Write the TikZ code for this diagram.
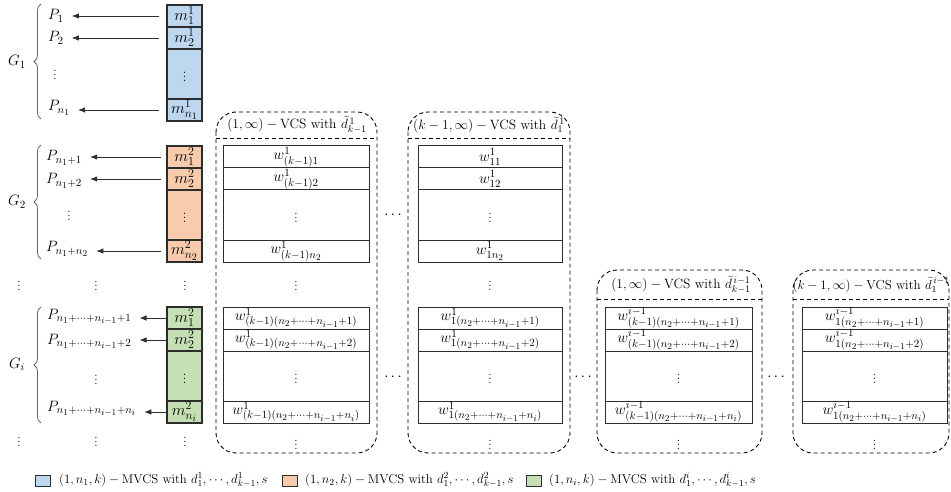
\RequirePackage{fix-cm}
\documentclass[tikz,border=0pt]{standalone}
\usetikzlibrary{decorations.pathreplacing,arrows.meta}
\definecolor{cblue}{RGB}{189,215,238}
\definecolor{corange}{RGB}{248,203,173}
\definecolor{cgreen}{RGB}{197,224,180}
\definecolor{cline}{RGB}{45,45,45}
\DeclareMathSizes{16}{16}{12}{10}
\DeclareMathSizes{15}{15}{11}{9}
\DeclareMathSizes{13.5}{13.5}{10}{8}
\DeclareMathSizes{13}{13}{9.6}{7.8}
\DeclareMathSizes{12.8}{12.8}{9.4}{7.6}
\newcommand\bigf{\fontsize{15}{17}\selectfont}
\newcommand\mf{\fontsize{16}{18}\selectfont}
\newcommand\titf{\fontsize{13.5}{15}\selectfont}
\newcommand\legf{\fontsize{12.8}{15}\selectfont}
\newcommand\rowset[7]{% #1 prefix, #2 style, #3 x, #4 top y, #5 #6 #7 labels
  \node[#2, minimum height=22pt] (#1a) at (#3,#4+11) {#5};
  \node[#2, minimum height=22pt] (#1b) at (#3,#4+33) {#6};
  \node[#2, minimum height=50pt] (#1c) at (#3,#4+69) {$\vdots$};
  \node[#2, minimum height=22pt] (#1d) at (#3,#4+105) {#7};
}
\begin{document}
\begin{tikzpicture}[x=1pt,y=-1pt,font=\bigf,
  mbox/.style={draw=cline, line width=1.1pt, minimum width=35pt, inner sep=0pt, font=\mf},
  wbox/.style={draw=cline, line width=1pt, inner sep=0pt},
  lab/.style={inner sep=3pt, anchor=west},
  ttl/.style={font=\titf, inner sep=1pt},
  arr/.style={-{Latex[length=7pt,width=5.5pt]}, line width=0.8pt, draw=cline, shorten >=5pt},
  dashbox/.style={draw=black, dash pattern=on 4pt off 3pt, line width=0.9pt, rounded corners=20pt},
  dashln/.style={draw=black, dash pattern=on 4pt off 3pt, line width=0.9pt},
  brc/.style={decorate, decoration={brace, amplitude=7pt}, draw=black!60, line width=0.8pt},
  legsq/.style={draw=cline, line width=0.9pt, minimum width=15pt, minimum height=11pt, inner sep=0pt},
  legt/.style={font=\legf, anchor=west, inner sep=0pt}]
\useasboundingbox (0,0) rectangle (951,492);

% ---------- left m columns ----------
\rowset{m1}{mbox,fill=cblue}{184.5}{5}{$m^1_1$}{$m^1_2$}{$m^1_{n_1}$}
\rowset{m2}{mbox,fill=corange}{184.5}{146}{$m^2_1$}{$m^2_2$}{$m^2_{n_2}$}
\rowset{mi}{mbox,fill=cgreen}{184.5}{307}{$m^2_1$}{$m^2_2$}{$m^2_{n_i}$}

% ---------- P labels ----------
\node[lab] (P1a) at (45,16) {$P_1$};
\node[lab] (P1b) at (45,38) {$P_2$};
\node (P1c) at (55,72) {$\vdots$};
\node[lab] (P1d) at (45,108) {$P_{n_1}$};

\node[lab] (P2a) at (43,158) {$P_{n_1+1}$};
\node[lab] (P2b) at (43,181) {$P_{n_1+2}$};
\node (P2c) at (69,213) {$\vdots$};
\node[lab] (P2d) at (43,249) {$P_{n_1+n_2}$};

\node[lab] (Pia) at (44,317) {$P_{n_1+\cdots+n_{i-1}+1}$};
\node[lab] (Pib) at (44,342) {$P_{n_1+\cdots+n_{i-1}+2}$};
\node (Pic) at (96,377) {$\vdots$};
\node[lab] (Pid) at (44,409) {$P_{n_1+\cdots+n_{i-1}+n_i}$};

% ---------- arrows ----------
\draw[arr] ([xshift=-7pt]m1a.west) -- (P1a.east |- m1a.west);
\draw[arr] ([xshift=-7pt]m1b.west) -- (P1b.east |- m1b.west);
\draw[arr] ([xshift=-7pt]m1d.west) -- (P1d.east |- m1d.west);
\draw[arr] ([xshift=-5pt]m2a.west) -- (P2a.east |- m2a.west);
\draw[arr] ([xshift=-5pt]m2b.west) -- (P2b.east |- m2b.west);
\draw[arr] ([xshift=-5pt]m2d.west) -- (P2d.east |- m2d.west);
\draw[arr] (mia.west) -- (Pia.east |- mia.west);
\draw[arr] (mib.west) -- (Pib.east |- mib.west);
\draw[arr] (mid.west) -- (Pid.east |- mid.west);

% ---------- braces and group names ----------
\draw[brc] (41,119) -- (41,4);
\node (G1) at (17,62) {$G_1$};
\draw[brc] (41,259) -- (41,145);
\node (G2) at (17,202) {$G_2$};
\draw[brc] (41,423) -- (41,307);
\node (Gi) at (17,364) {$G_i$};

% ---------- left vertical dots ----------
\node (d1) at (19,283) {$\vdots$};
\node (d2) at (96,283) {$\vdots$};
\node (d3) at (185,283) {$\vdots$};
\node (d4) at (19,439) {$\vdots$};
\node (d5) at (96,439) {$\vdots$};
\node (d6) at (185,439) {$\vdots$};

% ---------- column 1 ----------
\draw[dashbox] (216,112) rectangle (377,453);
\draw[dashln] (216,138) -- (377,138);
\node[ttl] (t1) at (297,125) {$(1,\infty)-\mathrm{VCS\ with}\ \widetilde{d}^{\,1}_{k-1}$};
\rowset{c1u}{wbox,minimum width=146pt}{296}{146}{$w^1_{(k-1)1}$}{$w^1_{(k-1)2}$}{$w^1_{(k-1)n_2}$}
\node (c1v1) at (296,283) {$\vdots$};
\rowset{c1l}{wbox,minimum width=146pt}{296}{307}{$w^1_{(k-1)(n_2+\cdots+n_{i-1}+1)}$}{$w^1_{(k-1)(n_2+\cdots+n_{i-1}+2)}$}{$w^1_{(k-1)(n_2+\cdots+n_{i-1}+n_i)}$}
\node (c1v2) at (296,442) {$\vdots$};

% ---------- column 2 ----------
\draw[dashbox] (408,112) rectangle (570,453);
\draw[dashln] (408,138) -- (570,138);
\node[ttl] (t2) at (489,125) {$(k-1,\infty)-\mathrm{VCS\ with}\ \widetilde{d}^{\,1}_{1}$};
\rowset{c2u}{wbox,minimum width=144pt}{490}{146}{$w^1_{11}$}{$w^1_{12}$}{$w^1_{1n_2}$}
\node (c2v1) at (490,283) {$\vdots$};
\rowset{c2l}{wbox,minimum width=144pt}{490}{307}{$w^1_{1(n_2+\cdots+n_{i-1}+1)}$}{$w^1_{1(n_2+\cdots+n_{i-1}+2)}$}{$w^1_{1(n_2+\cdots+n_{i-1}+n_i)}$}
\node (c2v2) at (490,442) {$\vdots$};

% ---------- column 3 ----------
\draw[dashbox] (597,270) rectangle (762,453);
\draw[dashln] (597,299) -- (762,299);
\node[ttl] (t3) at (681,285) {$(1,\infty)-\mathrm{VCS\ with}\ \widetilde{d}^{\,i-1}_{k-1}$};
\rowset{c3l}{wbox,minimum width=147pt}{678.5}{307}{$w^{i-1}_{(k-1)(n_2+\cdots+n_{i-1}+1)}$}{$w^{i-1}_{(k-1)(n_2+\cdots+n_{i-1}+2)}$}{$w^{i-1}_{(k-1)(n_2+\cdots+n_{i-1}+n_i)}$}
\node (c3v2) at (678.5,442) {$\vdots$};

% ---------- column 4 ----------
\draw[dashbox] (793,270) rectangle (949,453);
\draw[dashln] (793,299) -- (949,299);
\node[ttl, font=\fontsize{13}{15}\selectfont, anchor=east] (t4) at (951,285) {$(k-1,\infty)-\mathrm{VCS\ with}\ \widetilde{d}^{\,i-1}_{1}$};
\rowset{c4l}{wbox,minimum width=145pt}{874.5}{307}{$w^{i-1}_{1(n_2+\cdots+n_{i-1}+1)}$}{$w^{i-1}_{1(n_2+\cdots+n_{i-1}+2)}$}{$w^{i-1}_{1(n_2+\cdots+n_{i-1}+n_i)}$}
\node (c4v2) at (874.5,442) {$\vdots$};

% ---------- horizontal ellipses ----------
\node (h1) at (393,215) {$\cdots$};
\node (h2) at (393,377) {$\cdots$};
\node (h3) at (583,377) {$\cdots$};
\node (h4) at (776,377) {$\cdots$};

% ---------- legend ----------
\node[legsq, fill=cblue] (L1) at (43,480.5) {};
\node[legt] (T1) at (59,480) {$(1,n_1,k)-\mathrm{MVCS\ with}\ d^1_1,\cdots,d^1_{k-1},s$};
\node[legsq, fill=corange] (L2) at (290,480.5) {};
\node[legt] (T2) at (305,480) {$(1,n_2,k)-\mathrm{MVCS\ with}\ d^2_1,\cdots,d^2_{k-1},s$};
\node[legsq, fill=cgreen] (L3) at (534,480.5) {};
\node[legt] (T3) at (549,480) {$(1,n_i,k)-\mathrm{MVCS\ with}\ d^i_1,\cdots,d^i_{k-1},s$};
\end{tikzpicture}
\end{document}
